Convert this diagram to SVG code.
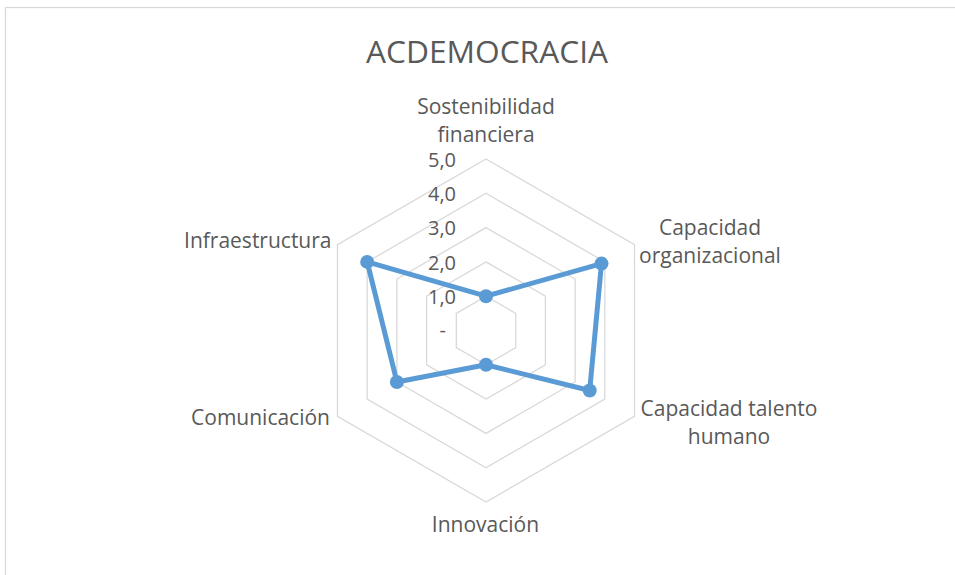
<svg xmlns="http://www.w3.org/2000/svg" width="955" height="575" viewBox="0 0 955 575">
<style>
.lbl{font-family:"Open Sans","Noto Sans","Liberation Sans",sans-serif;font-size:21px;fill:#595959}
.tick{font-family:"Open Sans","Noto Sans","Liberation Sans",sans-serif;font-size:20px;fill:#595959;text-anchor:end}
.title{font-family:"Open Sans","Noto Sans","Liberation Sans",sans-serif;font-size:31.7px;fill:#595959;text-anchor:middle}
.grid{fill:none;stroke:#D9D9D9;stroke-width:1.3}
.series{fill:none;stroke:#5B9BD5;stroke-width:5;stroke-linejoin:round}
.dot{fill:#5B9BD5}
</style>
<rect x="0" y="0" width="955" height="575" fill="#FFFFFF"/>
<rect x="5.5" y="7.5" width="1000" height="1000" fill="none" stroke="#D9D9D9" stroke-width="1.3"/>
<text class="title" x="487" y="63">ACDEMOCRACIA</text>
<g id="grid">
<polygon class="grid" points="486,296.2 515.7,313.35 515.7,347.65 486,364.8 456.3,347.65 456.3,313.35"/>
<polygon class="grid" points="486,261.9 545.41,296.2 545.41,364.8 486,399.1 426.59,364.8 426.59,296.2"/>
<polygon class="grid" points="486,227.6 575.11,279.05 575.11,381.95 486,433.4 396.89,381.95 396.89,279.05"/>
<polygon class="grid" points="486,193.3 604.82,261.9 604.82,399.1 486,467.7 367.18,399.1 367.18,261.9"/>
<polygon class="grid" points="486,159 634.52,244.75 634.52,416.25 486,502 337.48,416.25 337.48,244.75"/>
</g>
<g id="ticks">
<text class="tick" x="456" y="166.5">5,0</text>
<text class="tick" x="456" y="201">4,0</text>
<text class="tick" x="456" y="235.3">3,0</text>
<text class="tick" x="456" y="269.5">2,0</text>
<text class="tick" x="456" y="303.8">1,0</text>
<text class="tick" x="446" y="337">-</text>
</g>
<g id="connectors">
<polygon class="series" points="486,296.2 601.5,263.6 589.7,390.5 486,364.8 396.9,381.95 367.2,261.9"/>
</g>
<g id="node-sostenibilidad">
<circle class="dot" cx="486" cy="296.2" r="7"/>
<text class="lbl" text-anchor="middle" x="486" y="114">Sostenibilidad</text>
<text class="lbl" text-anchor="middle" x="486" y="142">financiera</text>
</g>
<g id="node-organizacional">
<circle class="dot" cx="601.5" cy="263.6" r="7"/>
<text class="lbl" text-anchor="middle" x="710" y="235">Capacidad</text>
<text class="lbl" text-anchor="middle" x="710" y="263">organizacional</text>
</g>
<g id="node-talento">
<circle class="dot" cx="589.7" cy="390.5" r="7"/>
<text class="lbl" text-anchor="middle" x="729" y="415.5">Capacidad talento</text>
<text class="lbl" text-anchor="middle" x="729" y="443.5">humano</text>
</g>
<g id="node-innovacion">
<circle class="dot" cx="486" cy="364.8" r="7"/>
<text class="lbl" text-anchor="middle" x="485.5" y="532">Innovación</text>
</g>
<g id="node-comunicacion">
<circle class="dot" cx="396.9" cy="381.95" r="7"/>
<text class="lbl" text-anchor="end" x="330" y="425">Comunicación</text>
</g>
<g id="node-infraestructura">
<circle class="dot" cx="367.2" cy="261.9" r="7"/>
<text class="lbl" text-anchor="end" x="331.5" y="248">Infraestructura</text>
</g>
</svg>
